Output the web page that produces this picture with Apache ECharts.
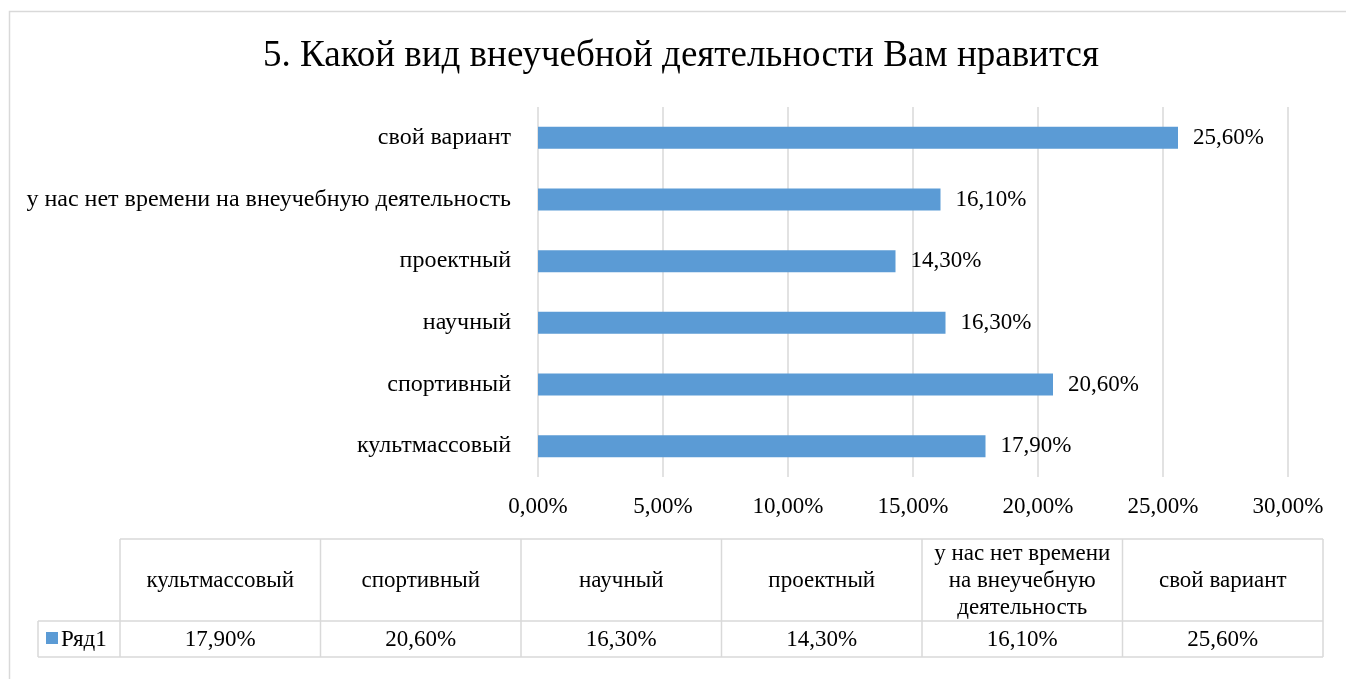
<!DOCTYPE html>
<html>
<head>
<meta charset="utf-8">
<script src="https://cdn.jsdelivr.net/npm/echarts@6/dist/echarts.min.js"></script>
<style>
html,body{margin:0;padding:0;background:#fff;}
#c{width:1346px;height:679px;}
</style>
</head>
<body>
<div id="c"></div>
<script>
var titleText = '5. Какой вид внеучебной деятельности Вам нравится';
var categories = ['культмассовый', 'спортивный', 'научный', 'проектный', 'у нас нет времени на внеучебную деятельность', 'свой вариант'];
var seriesName = 'Ряд1';
var values = [17.9, 20.6, 16.3, 14.3, 16.1, 25.6];
var xTicks = [0, 5, 10, 15, 20, 25, 30];

var FONT = '"Liberation Serif", "Times New Roman", serif';
var BAR = '#5b9bd5';
var LINE = '#d9d9d9';

function pct(v) { return v.toFixed(2).replace('.', ',') + '%'; }

var measureCtx = document.createElement('canvas').getContext('2d');
function wrap(text, font, maxW) {
  measureCtx.font = font;
  var words = text.split(' '), lines = [], cur = '';
  for (var k = 0; k < words.length; k++) {
    var t = cur ? cur + ' ' + words[k] : words[k];
    if (cur && measureCtx.measureText(t).width > maxW) { lines.push(cur); cur = words[k]; }
    else cur = t;
  }
  if (cur) lines.push(cur);
  return lines.join('\n');
}

// table layout
var tX0 = 120, tX1 = 1323, tY0 = 539, tY1 = 621, tY2 = 657, legX0 = 38;
var colW = (tX1 - tX0) / categories.length;
var TFONT = '23px ' + FONT;
var g = [];
g.push({type:'rect', shape:{x:9.5, y:11.5, width:1400, height:700}, style:{fill:null, stroke:LINE, lineWidth:1.5}, silent:true});
g.push({type:'line', shape:{x1:tX0, y1:tY0, x2:tX1, y2:tY0}, style:{stroke:LINE, lineWidth:1.5}});
g.push({type:'line', shape:{x1:legX0, y1:tY1, x2:tX1, y2:tY1}, style:{stroke:LINE, lineWidth:1.5}});
g.push({type:'line', shape:{x1:legX0, y1:tY2, x2:tX1, y2:tY2}, style:{stroke:LINE, lineWidth:1.5}});
g.push({type:'line', shape:{x1:legX0, y1:tY1, x2:legX0, y2:tY2}, style:{stroke:LINE, lineWidth:1.5}});
for (var i = 0; i <= categories.length; i++) {
  var x = tX0 + i * colW;
  g.push({type:'line', shape:{x1:x, y1:tY0, x2:x, y2:tY2}, style:{stroke:LINE, lineWidth:1.5}});
}
for (var j = 0; j < categories.length; j++) {
  var cx = tX0 + (j + 0.5) * colW;
  g.push({type:'text', x:cx, y:(tY0 + tY1) / 2 + 1, style:{text:wrap(categories[j], TFONT, 188), x:0, y:0, align:'center', verticalAlign:'middle', font:TFONT, fill:'#000', lineHeight:27}});
  g.push({type:'text', x:cx, y:(tY1 + tY2) / 2 + 1, style:{text:pct(values[j]), x:0, y:0, align:'center', verticalAlign:'middle', font:TFONT, fill:'#000'}});
}
g.push({type:'rect', shape:{x:46, y:632, width:12, height:12}, style:{fill:BAR}});
g.push({type:'text', x:61, y:(tY1 + tY2) / 2 + 1, style:{text:seriesName, x:0, y:0, align:'left', verticalAlign:'middle', font:TFONT, fill:'#000'}});
// title, centred over the reference position
g.push({type:'text', x:681, y:56, style:{text:titleText, x:0, y:0, align:'center', verticalAlign:'middle', font:'37px ' + FONT, fill:'#000'}});

var chart = echarts.init(document.getElementById('c'), null, {renderer:'canvas'});
chart.setOption({
  animation:false,
  backgroundColor:'#fff',
  grid:{left:538, right:58, top:107, bottom:202, containLabel:false},
  xAxis:{type:'value', min:0, max:30, interval:5,
    axisLine:{show:false}, axisTick:{show:false},
    splitLine:{lineStyle:{color:LINE, width:1.5}},
    axisLabel:{formatter:function(v){return pct(v);}, fontFamily:FONT, fontSize:23, color:'#000', margin:18}},
  yAxis:{type:'category', data:categories,
    axisLine:{show:false}, axisTick:{show:false},
    axisLabel:{fontFamily:FONT, fontSize:24, color:'#000', margin:27}},
  series:[{type:'bar', name:seriesName, data:values, barWidth:22,
    itemStyle:{color:BAR},
    label:{show:true, position:'right', distance:15, formatter:function(p){return pct(p.value);}, fontFamily:FONT, fontSize:23, color:'#000'}}],
  graphic:g
});
</script>
</body>
</html>
